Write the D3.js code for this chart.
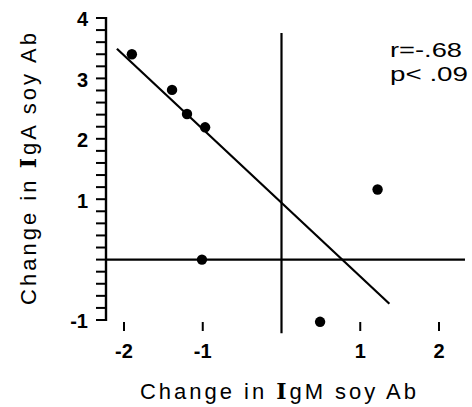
<!DOCTYPE html>
<html><head><meta charset="utf-8">
<script src="https://cdn.jsdelivr.net/npm/d3@7"></script>
<style>body{margin:0;background:#fff}svg{display:block}</style>
</head><body>
<svg id="c" width="472" height="407"></svg>
<script>
// data
const pointsX = [-1.90, -1.39, -1.20, -0.97, -1.01, 1.22, 0.49];
const pointsY = [3.40, 2.81, 2.41, 2.19, 0.00, 1.16, -1.03];
const fitX = [-2.09, 1.37];
const fitY = [3.49, -0.73];
const xTicks = [-2, -1, 1, 2];
const yTicks = [4, 3, 2, 1, -1];
const statLines = ["r=-.68", "p< .09"];

const svg = d3.select("#c");
const font = "'Liberation Sans', Arial, Helvetica, sans-serif";
const x = d3.scaleLinear().domain([-2, 2]).range([124, 439]);
const y = d3.scaleLinear().domain([-1, 4]).range([320, 18]);
const axX = 106;
const minor = d3.range(0, 26).map(i => +(-1 + i * 0.2).toFixed(1));

// reference lines
svg.append("line").attr("x1", x(0)).attr("x2", x(0)).attr("y1", y(3.75)).attr("y2", y(-1.22))
  .attr("stroke", "#000").attr("stroke-width", 2.2);
svg.append("line").attr("x1", axX).attr("x2", x(2.33)).attr("y1", y(0)).attr("y2", y(0))
  .attr("stroke", "#000").attr("stroke-width", 2.2);

// y axis line and minor ticks
svg.append("line").attr("x1", axX).attr("x2", axX).attr("y1", y(4) - 1).attr("y2", y(-1) + 1)
  .attr("stroke", "#000").attr("stroke-width", 2.4);
svg.selectAll("line.ytick").data(minor).join("line").attr("class", "ytick")
  .attr("x1", axX - 10).attr("x2", axX).attr("y1", d => y(d)).attr("y2", d => y(d))
  .attr("stroke", "#000").attr("stroke-width", 2);

// regression line
svg.append("path").datum(fitX.map((v, i) => [v, fitY[i]]))
  .attr("d", d3.line().x(d => x(d[0])).y(d => y(d[1])))
  .attr("stroke", "#000").attr("stroke-width", 2.2).attr("fill", "none");

// points
svg.selectAll("circle.pt").data(pointsX.map((v, i) => [v, pointsY[i]])).join("circle")
  .attr("class", "pt").attr("cx", d => x(d[0])).attr("cy", d => y(d[1])).attr("r", 5.2).attr("fill", "#000");

svg.selectAll("text.yl").data(yTicks).join("text").attr("class", "yl")
  .attr("x", 88).attr("y", d => y(d)).attr("dy", "0.42em").attr("text-anchor", "end")
  .attr("font-family", font).attr("font-weight", "bold").attr("font-size", 20).attr("fill", "#000")
  .text(d => d < 0 ? "-" + Math.abs(d) : String(d));

// x axis: small tick marks, no line
svg.selectAll("line.xtick").data(xTicks).join("line").attr("class", "xtick")
  .attr("x1", d => x(d)).attr("x2", d => x(d)).attr("y1", 322).attr("y2", 331)
  .attr("stroke", "#000").attr("stroke-width", 2);
svg.selectAll("text.xl").data(xTicks).join("text").attr("class", "xl")
  .attr("x", d => x(d)).attr("y", 358).attr("text-anchor", "middle")
  .attr("font-family", font).attr("font-weight", "bold").attr("font-size", 20).attr("fill", "#000")
  .text(d => d < 0 ? "-" + Math.abs(d) : String(d));

// stats text
const statW = [72, 78];
svg.selectAll("text.stat").data(statLines).join("text").attr("class", "stat")
  .attr("x", 390).attr("y", (d, i) => 57 + i * 24)
  .attr("textLength", (d, i) => statW[i]).attr("lengthAdjust", "spacingAndGlyphs")
  .attr("font-family", font).attr("font-size", 21).attr("fill", "#000").text(d => d);

// axis titles
function title(sel, mid) {
  sel.attr("font-family", font).attr("font-size", 22).attr("fill", "#000").attr("text-anchor", "middle");
  sel.append("tspan").text("Change in ");
  sel.append("tspan").attr("font-family", "'DejaVu Serif', serif").attr("font-weight", "bold").text("I");
  sel.append("tspan").text(mid + " soy Ab");
}
const xt = svg.append("text").attr("x", 278).attr("y", 399)
  .attr("textLength", 276).attr("lengthAdjust", "spacing");
title(xt, "gM");
const yt = svg.append("text").attr("transform", "translate(36,169) rotate(-90)")
  .attr("textLength", 272).attr("lengthAdjust", "spacing");
title(yt, "gA");
</script>
</body></html>
